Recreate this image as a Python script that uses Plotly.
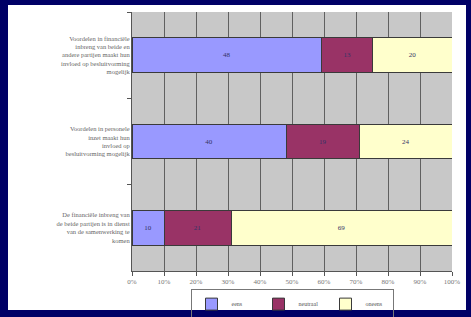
import plotly.graph_objects as go

categories = [
    "Voordelen in financiële<br>inbreng van beide en<br>andere partijen maakt hun<br>invloed op besluitvorming<br>mogelijk",
    "Voordelen in personele<br>inzet maakt hun<br>invloed op<br>besluitvorming mogelijk",
    "De financiële inbreng van<br>de beide partijen is in dienst<br>van de samenwerking te<br>komen",
]
series_names = ["eens", "neutraal", "oneens"]
eens = [48, 40, 10]
neutraal = [13, 19, 21]
oneens = [20, 24, 69]
colors = ["#9999FF", "#993366", "#FFFFCC"]
x_ticks = [0, 10, 20, 30, 40, 50, 60, 70, 80, 90, 100]
x_tick_labels = [f"{v}%" for v in x_ticks]

fig = go.Figure()
for name, vals, col in zip(series_names, [eens, neutraal, oneens], colors):
    fig.add_trace(go.Bar(
        y=categories, x=vals, name=name, orientation="h",
        marker=dict(color=col, line=dict(color="#3a3a3a", width=1)),
        text=[str(v) for v in vals], textposition="inside", insidetextanchor="middle",
        textfont=dict(family="Liberation Serif", size=7, color="#333366"),
    ))

fig.update_layout(
    width=471, height=317,
    barmode="stack", barnorm="percent", bargap=0.6,
    paper_bgcolor="#000066", plot_bgcolor="rgba(0,0,0,0)",
    margin=dict(l=132, r=19, t=12, b=46, autoexpand=False),
    font=dict(family="Liberation Serif", size=7, color="#555555"),
    showlegend=True,
    legend=dict(orientation="h", x=0.5, xanchor="center", y=-0.068, yanchor="top",
                font=dict(family="Liberation Serif", size=6, color="#555555"),
                bordercolor="#777777", borderwidth=1, itemwidth=30,
                entrywidth=22, entrywidthmode="pixels",
                bgcolor="rgba(0,0,0,0)", traceorder="normal"),
    shapes=[
        dict(type="rect", xref="paper", yref="paper", x0=-0.3875, x1=1.04375, y0=-0.1506, y1=1.027,
             fillcolor="white", line=dict(width=0), layer="below"),
        dict(type="rect", xref="paper", yref="paper", x0=0, x1=1, y0=0, y1=1,
             fillcolor="#C8C8C8", line=dict(width=0), layer="below"),
    ],
)
fig.update_xaxes(range=[0, 100], tickmode="array", tickvals=x_ticks, ticktext=x_tick_labels,
                 showgrid=True, automargin=False,
                 gridcolor="#606060", gridwidth=1, ticks="outside", ticklen=4, tickcolor="#555555",
                 showline=True, linecolor="#555555", linewidth=1, zeroline=False,
                 tickfont=dict(size=7, color="#777777"))
fig.update_yaxes(autorange="reversed", ticks="outside", tickson="boundaries", ticklen=4,
                 automargin=False,
                 tickcolor="#555555", showline=True, linecolor="#555555", linewidth=1,
                 showgrid=False, tickfont=dict(size=6.5, color="#666666"))

fig.write_html("out.html", config={"displayModeBar": False},
               post_script="document.body.style.margin='0';document.body.style.overflow='hidden';")
